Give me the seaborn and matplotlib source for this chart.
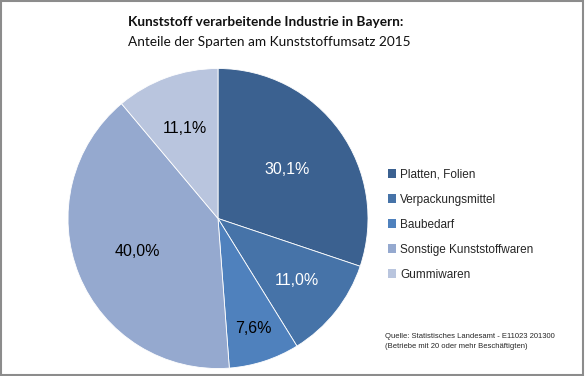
import numpy as np
import matplotlib
matplotlib.use('Agg')
import matplotlib.pyplot as plt
import seaborn as sns
from matplotlib.patches import Rectangle

sns.set_theme(style='white')
plt.rcParams['font.family'] = ['Liberation Sans', 'DejaVu Sans']

# data
sparten = ['Platten, Folien', 'Verpackungsmittel', 'Baubedarf',
           'Sonstige Kunststoffwaren', 'Gummiwaren']
anteile = [30.1, 11.0, 7.6, 40.0, 11.1]
labels = ['30,1%', '11,0%', '7,6%', '40,0%', '11,1%']
label_dist = [0.565, 0.67, 0.77, 0.58, 0.64]
label_col = ['white', 'white', 'black', 'black', 'black']
farben = ['#3B6190', '#4673A8', '#4F81BD', '#95A9CF', '#B9C5DE']

W, H = 585, 376
fig = plt.figure(figsize=(W / 100, H / 100), dpi=100)

# pie: centre (218, 218.5), radius 150 px
cx, cy, r = 218, 218.5, 150
ax = fig.add_axes([(cx - r) / W, (H - cy - r) / H, 2 * r / W, 2 * r / H])
wedges, _ = ax.pie(anteile, colors=farben, startangle=90, counterclock=False,
                   wedgeprops=dict(edgecolor='white', linewidth=0.6))
ax.set_xlim(-1, 1)
ax.set_ylim(-1, 1)
ax.set_aspect('auto')

for w, lab, d, c in zip(wedges, labels, label_dist, label_col):
    ang = np.deg2rad((w.theta1 + w.theta2) / 2)
    ax.text(d * np.cos(ang), d * np.sin(ang), lab, ha='center', va='center',
            fontsize=11.5, color=c)

# title
fig.text(128 / W, 1 - 22 / H, 'Kunststoff verarbeitende Industrie in Bayern:',
         fontsize=9.8, fontweight='bold', family=['Lato', 'DejaVu Sans'],
         ha='left', va='center', color='#111111')
fig.text(128 / W, 1 - 42 / H, 'Anteile der Sparten am Kunststoffumsatz 2015',
         fontsize=9.8, family=['Lato', 'DejaVu Sans'],
         ha='left', va='center', color='#111111')

# legend
handles = [Rectangle((0, 0), 1, 1, facecolor=f, edgecolor='none') for f in farben]
leg = fig.legend(handles, sparten, loc='upper left',
                 bbox_to_anchor=(383 / W, 1 - 164 / H), frameon=False,
                 fontsize=8.5, handlelength=0.7, handleheight=0.7,
                 handletextpad=0.35, labelspacing=1.1, borderaxespad=0)

# source note
fig.text(385 / W, 1 - 337 / H, 'Quelle: Statistisches Landesamt - E11023 201300',
         fontsize=5.5, ha='left', va='center')
fig.text(385 / W, 1 - 347 / H, '(Betriebe mit 20 oder mehr Beschäftigten)',
         fontsize=5.5, ha='left', va='center')

# frame around figure
fig.patches.append(Rectangle((0.002, 0.003), 0.995, 0.994, transform=fig.transFigure,
                             fill=False, edgecolor='#8C8C8C', linewidth=1.5))

fig.savefig('out.png', dpi=100)
